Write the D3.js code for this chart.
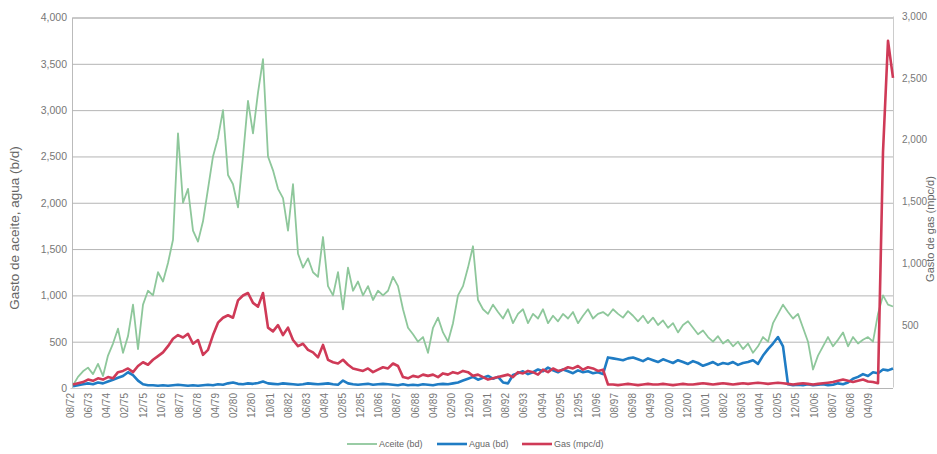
<!DOCTYPE html>
<html>
<head>
<meta charset="utf-8">
<script src="https://cdn.jsdelivr.net/npm/d3@7"></script>
<style>
  html, body { margin: 0; padding: 0; background: #fff; }
  svg { display: block; font-family: "Liberation Sans", Arial, sans-serif; }
</style>
</head>
<body>
<svg id="chart" width="937" height="454"></svg>
<script>
// Category labels along the bottom axis (month/year)
const dateLabels = ["08/72","06/73","04/74","02/75","12/75","10/76","08/77","06/78","04/79","02/80",
  "12/80","10/81","08/82","06/83","04/84","02/85","12/85","10/86","08/87","06/88",
  "04/89","02/90","12/90","10/91","08/92","06/93","04/94","02/95","12/95","10/96",
  "08/97","06/98","04/99","02/00","12/00","10/01","08/02","06/03","04/04","02/05",
  "12/05","10/06","08/07","06/08","04/09"];

// Oil rate, b/d (left axis)
const aceite = [30,120,180,220,150,260,130,350,480,640,
  380,560,900,420,900,1050,1000,1250,1150,1350,
  1600,2750,2000,2150,1700,1580,1800,2150,2500,2700,
  3000,2300,2200,1950,2500,3100,2750,3190,3550,2500,
  2350,2150,2050,1700,2200,1450,1300,1400,1250,1200,
  1630,1100,1000,1250,850,1300,1050,1150,1000,1100,
  950,1050,1000,1050,1200,1100,850,650,580,500,
  550,380,650,760,600,500,700,1000,1100,1300,
  1530,950,850,800,900,820,750,850,700,800,
  850,700,800,750,850,700,780,720,800,750,
  820,700,780,850,750,800,820,780,850,800,
  760,830,780,720,780,700,760,680,730,650,
  700,600,680,720,650,580,620,550,500,560,
  480,520,450,500,420,480,380,450,550,500,
  700,800,900,820,750,800,650,500,200,350,
  450,550,450,520,600,450,550,480,520,550,
  500,800,1000,900,880];

// Water rate, b/d (left axis)
const agua = [20,30,40,50,40,60,50,70,90,110,
  130,170,140,80,40,30,30,25,30,25,
  30,35,30,25,30,25,30,35,30,40,
  35,50,60,45,40,50,45,55,70,50,
  45,40,50,45,40,35,40,50,45,40,
  45,50,40,35,80,50,40,35,40,45,
  35,40,45,40,35,30,40,30,35,30,
  40,35,30,40,45,40,50,60,80,100,
  120,90,110,130,100,120,60,50,140,160,
  180,150,170,200,180,220,190,170,200,180,
  160,190,170,180,160,170,150,330,320,310,
  300,320,330,310,290,320,300,280,310,290,
  270,300,280,260,290,270,240,260,280,250,
  270,260,280,250,270,280,300,260,350,420,
  480,550,450,40,30,35,30,40,30,35,
  40,30,35,50,40,60,100,120,150,130,
  170,160,200,190,210];

// Gas rate, mpc/d (right axis)
const gas = [20,30,40,60,50,70,60,80,70,120,
  130,150,120,170,200,180,220,250,280,330,
  390,420,400,430,350,380,260,300,420,520,
  560,580,560,700,740,760,680,650,760,480,
  450,500,420,480,380,330,350,300,280,240,
  340,220,200,190,220,180,150,140,130,150,
  120,140,160,150,190,170,80,70,90,80,
  100,90,100,80,110,100,120,110,130,120,
  90,100,80,60,70,80,90,100,80,120,
  110,130,120,100,140,120,150,130,140,160,
  150,170,140,160,150,130,140,20,20,15,
  20,25,20,15,20,25,20,20,25,20,
  15,20,25,20,20,25,30,25,20,25,
  30,25,20,25,30,25,30,35,30,25,
  30,35,30,25,20,25,30,25,20,25,
  30,35,40,50,60,50,40,50,60,45,
  40,30,1900,2800,2500];

const leftTicks = [0,500,1000,1500,2000,2500,3000,3500,4000];
const rightTicks = [500,1000,1500,2000,2500,3000];

const series = [
  { name: "Aceite (bd)", values: aceite, axis: "left", color: "#8ec79b", width: 1.8 },
  { name: "Agua (bd)", values: agua, axis: "left", color: "#1f7cc4", width: 2.6 },
  { name: "Gas (mpc/d)", values: gas, axis: "right", color: "#cf3a57", width: 2.6 }
];

const svg = d3.select("#chart");
const plot = { left: 72, right: 893, top: 17, bottom: 388 };

const x = d3.scaleLinear().domain([0, aceite.length - 1]).range([73, 893]);
const xCat = d3.scalePoint().domain(dateLabels).range([70, 868]);
const yL = d3.scaleLinear().domain([0, 4000]).range([plot.bottom, 17.5]);
const yR = d3.scaleLinear().domain([0, 3000]).range([387, 16]);

// Horizontal gridlines + left axis labels
const gLeft = svg.append("g").attr("transform", `translate(${plot.left},0)`)
  .call(d3.axisLeft(yL).tickValues(leftTicks).tickFormat(d3.format(",")).tickSize(-(plot.right - plot.left)).tickPadding(5));
gLeft.select(".domain").attr("stroke", "#bbb");
gLeft.selectAll(".tick line").attr("stroke", "#b5b5b5").attr("stroke-width", 1);
gLeft.selectAll(".tick text").attr("fill", "#777").style("font-size", "10.5px");

// Right axis labels
const gRight = svg.append("g").attr("transform", `translate(${plot.right},0)`)
  .call(d3.axisRight(yR).tickValues(rightTicks).tickFormat(d3.format(",")).tickSize(0).tickPadding(9));
gRight.select(".domain").attr("stroke", "#ccc");
gRight.selectAll(".tick text").attr("fill", "#777").style("font-size", "10px");

// Bottom category axis, labels rotated
const gBottom = svg.append("g").attr("transform", `translate(0,${plot.bottom})`)
  .call(d3.axisBottom(xCat).tickSize(0));
gBottom.select(".domain").attr("stroke", "#ccc");
gBottom.selectAll(".tick text")
  .attr("transform", "rotate(-90)")
  .attr("x", -5).attr("y", 0).attr("dy", "0.35em")
  .style("text-anchor", "end")
  .attr("fill", "#777").style("font-size", "10px");

// Series lines
series.forEach(s => {
  const yS = s.axis === "left" ? yL : yR;
  const line = d3.line().x((d, i) => x(i)).y(d => yS(d)).curve(d3.curveLinear);
  svg.append("path")
    .datum(s.values)
    .attr("d", line)
    .attr("fill", "none")
    .attr("stroke", s.color)
    .attr("stroke-width", s.width)
    .attr("stroke-linejoin", "round");
});

// Axis titles
svg.append("text")
  .attr("transform", "translate(19,228) rotate(-90)")
  .attr("text-anchor", "middle")
  .attr("fill", "#666").style("font-size", "13.5px")
  .text("Gasto de aceite, agua (b/d)");
svg.append("text")
  .attr("transform", "translate(933.5,229) rotate(-90)")
  .attr("text-anchor", "middle")
  .attr("fill", "#666").style("font-size", "11px")
  .text("Gasto de gas (mpc/d)");

// Legend
const legendX = [347, 437, 522];
const legend = svg.append("g");
series.forEach((s, i) => {
  const g = legend.append("g").attr("transform", `translate(${legendX[i]},444)`);
  g.append("line").attr("x1", 0).attr("x2", 30).attr("y1", 0).attr("y2", 0)
    .attr("stroke", s.color).attr("stroke-width", s.width);
  g.append("text").attr("x", 32).attr("dy", "0.35em")
    .attr("fill", "#666").style("font-size", "9px").text(s.name);
});
</script>
</body>
</html>
